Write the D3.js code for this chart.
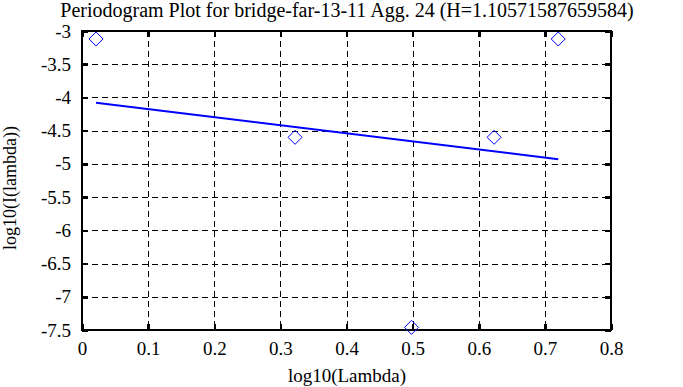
<!DOCTYPE html>
<html><head><meta charset="utf-8">
<script src="https://cdn.jsdelivr.net/npm/d3@7"></script>
<style>body{margin:0;background:#fff;}svg{display:block;}</style>
</head><body><svg id="c" width="683" height="387"></svg>
<script>
const titleText = "Periodogram Plot for bridge-far-13-11 Agg. 24 (H=1.10571587659584)";
const xLabel = "log10(Lambda)";
const yLabel = "log10(I(lambda))";
const pointX = [0.0212, 0.3222, 0.4983, 0.6232, 0.7202];
const pointY = [-3.12, -4.60, -7.46, -4.60, -3.12];
const fitX = [0.0212, 0.7202];
const fitY = [-4.08, -4.93];
const xTicks = [0, 0.1, 0.2, 0.3, 0.4, 0.5, 0.6, 0.7, 0.8];
const yTicks = [-3, -3.5, -4, -4.5, -5, -5.5, -6, -6.5, -7, -7.5];

const FONT = "\"Liberation Serif\"";
const svg = d3.select("#c");
const L = 82, R = 611, T = 31, B = 330;
const x = d3.scaleLinear().domain([0, 0.8]).range([L, R]);
const y = d3.scaleLinear().domain([-7.5, -3]).range([B, T]);

const g = svg.append("g").attr("shape-rendering", "crispEdges");
g.selectAll(".vg").data(xTicks.slice(1, -1)).enter().append("line")
  .attr("x1", d => Math.round(x(d))).attr("x2", d => Math.round(x(d)))
  .attr("y1", T).attr("y2", B).attr("stroke", "#000").attr("stroke-width", 1).attr("stroke-dasharray", "6,4");
g.selectAll(".hg").data(yTicks.slice(1, -1)).enter().append("line")
  .attr("y1", d => Math.round(y(d))).attr("y2", d => Math.round(y(d)))
  .attr("x1", L).attr("x2", R).attr("stroke", "#000").attr("stroke-width", 1).attr("stroke-dasharray", "6,4");

const ax = svg.append("g").attr("shape-rendering", "crispEdges");
const fmt = d => String(d);
ax.append("g").attr("transform", `translate(0,${B})`).call(d3.axisBottom(x).tickValues(xTicks).tickSize(-6).tickPadding(12).tickFormat(fmt));
ax.append("g").attr("transform", `translate(0,${T})`).call(d3.axisTop(x).tickValues(xTicks).tickSize(-6).tickFormat(""));
const yl = ax.append("g").attr("transform", `translate(${L},0)`).call(d3.axisLeft(y).tickValues(yTicks).tickSize(-6).tickPadding(11).tickFormat(fmt));
ax.append("g").attr("transform", `translate(${R},0)`).call(d3.axisRight(y).tickValues(yTicks).tickSize(-6).tickFormat(""));
ax.selectAll("g").attr("font-family", null).attr("font-size", null);
ax.selectAll(".domain").remove();
ax.selectAll(".tick line").attr("stroke", "#000").attr("stroke-width", 2.5);
ax.selectAll(".tick text").style("font-family", FONT).style("font-size", "19px").attr("fill", "#000");
yl.selectAll(".tick text").attr("dy", "0.32em");

svg.append("rect").attr("x", L).attr("y", T).attr("width", R - L).attr("height", B - T)
  .attr("fill", "none").attr("stroke", "#000").attr("stroke-width", 2.5).attr("shape-rendering", "crispEdges");

svg.append("path").datum(fitX.map((v, i) => [v, fitY[i]]))
  .attr("d", d3.line().x(d => x(d[0])).y(d => y(d[1])))
  .attr("stroke", "#0000ff").attr("stroke-width", 2).attr("fill", "none");

svg.selectAll(".pt").data(pointX.map((v, i) => [v, pointY[i]])).enter().append("path")
  .attr("d", d => { const cx = x(d[0]), cy = y(d[1]), r = 7; return `M${cx},${cy - r}L${cx + r},${cy}L${cx},${cy + r}L${cx - r},${cy}Z`; })
  .attr("fill", "none").attr("stroke", "#0000ff").attr("stroke-width", 1);

svg.append("text").attr("x", 347).attr("y", 17).attr("text-anchor", "middle").style("font-family", FONT).style("font-size", "20px").text(titleText);
svg.append("text").attr("x", 347).attr("y", 382).attr("text-anchor", "middle").style("font-family", FONT).style("font-size", "19px").text(xLabel);
svg.append("text").attr("transform", "translate(16,188) rotate(-90)").attr("text-anchor", "middle").style("font-family", FONT).style("font-size", "18px").text(yLabel);
</script></body></html>
